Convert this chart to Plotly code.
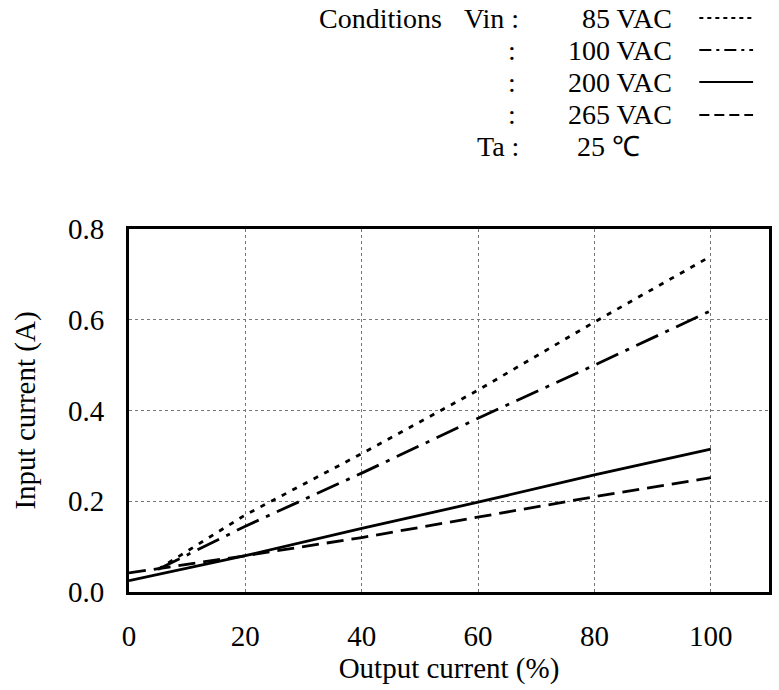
import plotly.graph_objects as go

# Data
x_85 = [5, 20, 40, 60, 80, 100]
y_85 = [0.05, 0.17, 0.305, 0.445, 0.595, 0.74]
x_100 = [5, 20, 40, 60, 80, 100]
y_100 = [0.05, 0.145, 0.262, 0.383, 0.50, 0.62]
x_200 = [0, 20, 40, 60, 80, 100]
y_200 = [0.025, 0.08, 0.14, 0.198, 0.258, 0.315]
x_265 = [0, 20, 40, 60, 80, 100]
y_265 = [0.042, 0.08, 0.12, 0.165, 0.21, 0.252]

series = [
    ("85 VAC", x_85, y_85, "5px,7px"),
    ("100 VAC", x_100, y_100, "24px,8px,4px,8px"),
    ("200 VAC", x_200, y_200, "solid"),
    ("265 VAC", x_265, y_265, "17px,8px"),
]
legend_dash = ["4px,4px", "12px,5px,3px,5px", "solid", "10px,5px"]

x_ticks = [0, 20, 40, 60, 80, 100]
y_ticks = [0.0, 0.2, 0.4, 0.6, 0.8]

FONT = "Liberation Serif"

fig = go.Figure()
for name, xs, ys, dash in series:
    fig.add_trace(go.Scatter(x=xs, y=ys, mode="lines", name=name,
                             line=dict(color="black", width=2.8, dash=dash),
                             showlegend=False))

L, R, T, B = 129, 7, 229, 98
W, H = 779, 690
pw = W - L - R
ph = H - T - B

def px(x):
    return (x - L) / pw

def py(y):
    return (H - B - y) / ph

ann = []
def text(t, x, y, anchor):
    ann.append(dict(text=t, x=px(x), y=py(y), xref="paper", yref="paper",
                    xanchor=anchor, yanchor="middle", showarrow=False,
                    font=dict(family=FONT, size=28, color="black")))

text("Conditions", 318, 18, "left")
text("Vin :", 523, 18, "right")
text("85 VAC", 677, 18, "right")
text(":", 520, 50, "right")
text("100 VAC", 677, 50, "right")
text(":", 520, 82, "right")
text("200 VAC", 677, 82, "right")
text(":", 520, 115, "right")
text("265 VAC", 677, 115, "right")
text("Ta :", 523, 147, "right")
text("25 ℃", 577, 147, "left")
fig.update_layout(annotations=ann)

shapes = []
for i, (name, xs, ys, dash) in enumerate(series):
    yy = [18, 50, 82, 115][i]
    shapes.append(dict(type="line", xref="paper", yref="paper",
                       x0=px(702), x1=px(756), y0=py(yy), y1=py(yy),
                       line=dict(color="black", width=1.8, dash=legend_dash[i])))
fig.update_layout(shapes=shapes)

fig.update_layout(
    width=W, height=H,
    margin=dict(l=L, r=R, t=T, b=B),
    plot_bgcolor="white", paper_bgcolor="white",
    font=dict(family=FONT, size=29, color="black"),
)
fig.update_xaxes(range=[0, 110], tickvals=x_ticks, showline=True, mirror=True,
                 linecolor="black", linewidth=3, showgrid=True,
                 gridcolor="#777777", gridwidth=1, griddash="3px,3px",
                 zeroline=False, ticks="", ticklabelstandoff=16,
                 title=dict(text="Output current (%)", standoff=4,
                            font=dict(family=FONT, size=29)))
fig.update_yaxes(range=[0, 0.8], tickvals=y_ticks, tickformat=".1f",
                 showline=True, mirror=True,
                 linecolor="black", linewidth=3, showgrid=True,
                 gridcolor="#777777", gridwidth=1, griddash="3px,3px",
                 zeroline=False, ticks="", ticklabelstandoff=16,
                 title=dict(text="Input current (A)", standoff=24,
                            font=dict(family=FONT, size=29)))

fig.write_html("out.html", config={"displayModeBar": False},
               post_script="document.body.style.margin='0';document.body.style.padding='0';")
